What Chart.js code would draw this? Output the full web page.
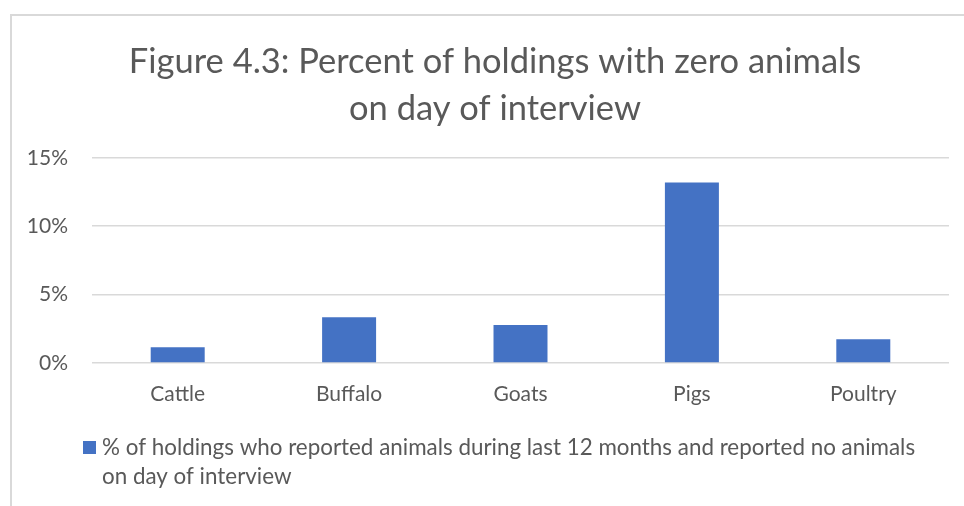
<!DOCTYPE html>
<html>
<head>
<meta charset="utf-8">
<script src="https://cdn.jsdelivr.net/npm/chart.js@4"></script>
<style>
  html, body { margin: 0; padding: 0; background: #fff; overflow: hidden; }
  #frame {
    position: absolute; left: 10px; top: 14px;
    width: 966px; height: 500px;
    border-top: 2px solid #d9d9d9; border-left: 2px solid #d9d9d9;
  }
  #chart { display: block; }
</style>
</head>
<body>
<div id="frame"><canvas id="chart" width="966" height="490"></canvas></div>
<script>
const categories = ['Cattle', 'Buffalo', 'Goats', 'Pigs', 'Poultry'];
const zeroAnimalPct = [1.15, 3.34, 2.77, 13.2, 1.74];
const yTicks = [0, 5, 10, 15];
const titleLines = ['Figure 4.3: Percent of holdings with zero animals', 'on day of interview'];
const seriesLabel = '% of holdings who reported animals during last 12 months and reported no animals on day of interview';

const textColor = '#595959';
const fontFamily = 'Lato, "Liberation Sans", sans-serif';

// legend drawn by hand so the long label can wrap onto two lines
const wrappedLegend = {
  id: 'wrappedLegend',
  afterDraw(chart) {
    const ctx = chart.ctx;
    const area = chart.chartArea;
    const ds = chart.data.datasets[0];
    ctx.save();
    ctx.font = '22.4px ' + fontFamily;
    ctx.fillStyle = ds.backgroundColor;
    const boxX = area.left - 9;
    const boxY = area.bottom + 78;
    ctx.fillRect(boxX, boxY, 13, 13);

    const words = ds.label.split(' ');
    const maxW = 828;
    const lines = [];
    let line = '';
    words.forEach(w => {
      const test = line ? line + ' ' + w : w;
      if (ctx.measureText(test).width > maxW && line) {
        lines.push(line);
        line = w;
      } else {
        line = test;
      }
    });
    if (line) lines.push(line);

    ctx.fillStyle = textColor;
    ctx.textBaseline = 'middle';
    lines.forEach((l, i) => {
      ctx.fillText(l, boxX + 19, boxY + 7 + i * 29);
    });
    ctx.restore();
  }
};

new Chart(document.getElementById('chart'), {
  type: 'bar',
  data: {
    labels: categories,
    datasets: [{
      label: seriesLabel,
      data: zeroAnimalPct,
      backgroundColor: '#4472C4',
      categoryPercentage: 1,
      barPercentage: 0.315
    }]
  },
  options: {
    responsive: false,
    animation: false,
    layout: { padding: { top: 0, right: 0, bottom: 92, left: 0 } },
    plugins: {
      legend: { display: false },
      tooltip: { enabled: false },
      title: {
        display: true,
        text: titleLines,
        color: textColor,
        font: { family: fontFamily, size: 34.5, weight: 'normal', lineHeight: 1.36 },
        padding: { top: 22, bottom: 26 }
      }
    },
    scales: {
      x: {
        grid: { display: false, drawTicks: false },
        border: { display: false },
        ticks: { color: textColor, font: { family: fontFamily, size: 21 }, padding: 19 },
        afterFit(scale) { scale.height = 51; }
      },
      y: {
        min: 0,
        max: 15,
        afterBuildTicks(scale) { scale.ticks = yTicks.map(v => ({ value: v })); },
        grid: { color: '#d9d9d9', lineWidth: 1.5, drawTicks: false },
        border: { display: false },
        ticks: {
          color: textColor,
          font: { family: fontFamily, size: 21 },
          padding: 24,
          callback: v => v + '%'
        },
        afterFit(scale) { scale.width = 80; }
      },
      // empty right-hand spacer so the title centres on the whole frame
      yRight: {
        position: 'right',
        grid: { display: false, drawTicks: false },
        border: { display: false },
        ticks: { display: false },
        afterFit(scale) { scale.width = 29; }
      }
    }
  },
  plugins: [wrappedLegend]
});
</script>
</body>
</html>
